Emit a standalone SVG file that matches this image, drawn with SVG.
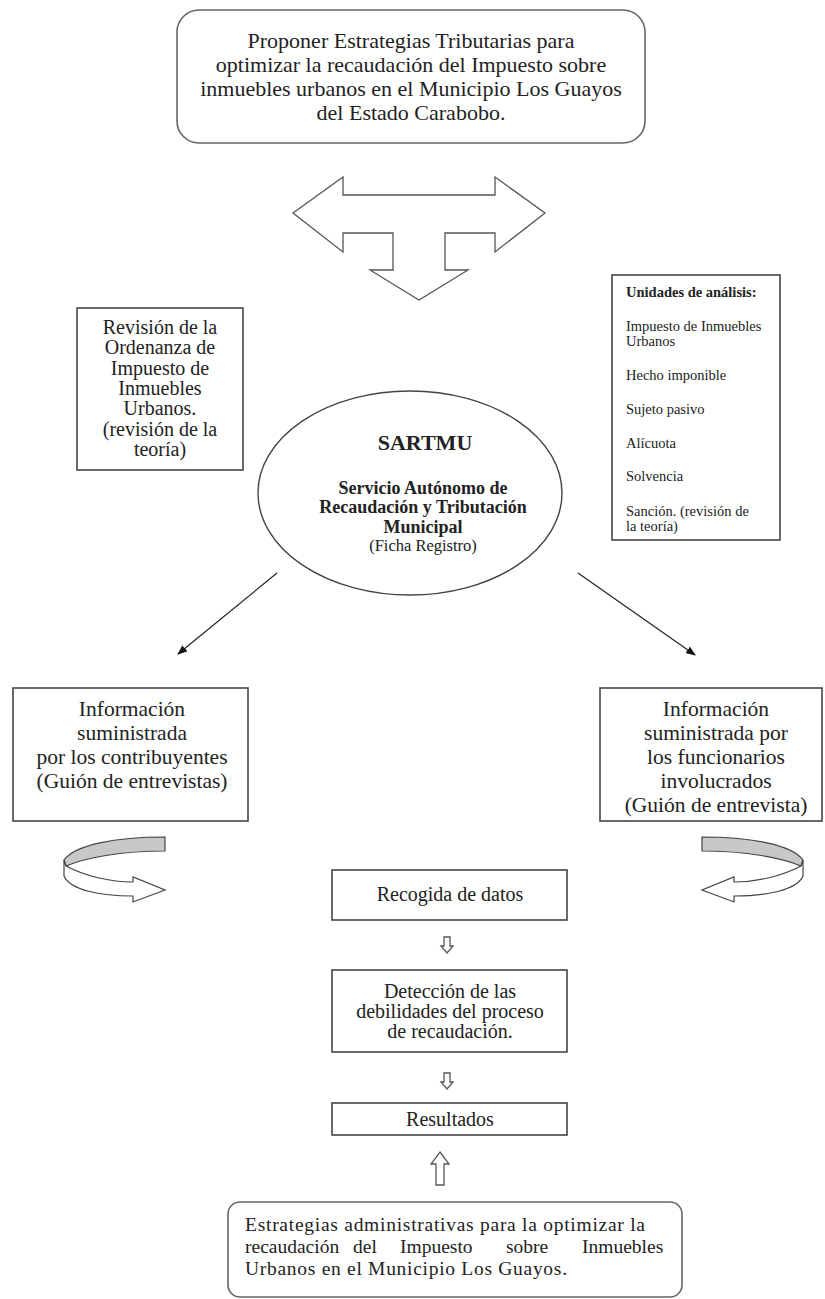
<svg xmlns="http://www.w3.org/2000/svg" width="825" height="1299" viewBox="0 0 825 1299">
<style>
text{font-family:"Liberation Serif","Times New Roman",serif;fill:#222}
.c{text-anchor:middle}
.box{fill:#fff;stroke:#444;stroke-width:1.6}
.rbox{fill:#fff;stroke:#666;stroke-width:1.6}
.blk{fill:#fff;stroke:#555;stroke-width:1.3;stroke-linejoin:miter}
.conn{stroke:#222;stroke-width:1.2;fill:none}
</style>
<defs>
<marker id="ah" markerWidth="10" markerHeight="8" refX="9" refY="4" orient="auto" markerUnits="userSpaceOnUse">
<path d="M0,0 L10,4 L0,8 Z" fill="#111"/>
</marker>
<g id="curl">
<path d="M165,837 C115,837 75,845 64,860 L66,866 C85,858 120,851 165,851 Z" fill="#c8c8c8" stroke="#444" stroke-width="1.2"/>
<path d="M66,866 C85,876 110,882 133,882 L133,877 L165,890 L133,902 L133,896 C100,896 70,890 64,876 L64,860 Z" fill="#fff" stroke="#444" stroke-width="1.2"/>
</g>
</defs>

<g id="objetivo">
<rect class="rbox" x="177" y="10" width="468" height="133" rx="22"/>
<text class="c" font-size="22" x="411" y="48">Proponer Estrategias Tributarias para</text>
<text class="c" font-size="22" x="411" y="72">optimizar la recaudación del Impuesto sobre</text>
<text class="c" font-size="22" x="411" y="96">inmuebles urbanos en el Municipio Los Guayos</text>
<text class="c" font-size="22" x="411" y="120">del Estado Carabobo.</text>
</g>

<g id="flecha-triple">
<polygon class="blk" points="293,213 343,177 343,195 495,195 495,177 545,213 495,252 495,233 445,233 445,270 468,270 419,300 370,270 393,270 393,233 343,233 343,252"/>
</g>

<g id="revision">
<rect class="box" x="77" y="308" width="166" height="162"/>
<text class="c" font-size="20" x="160" y="334">Revisión de la</text>
<text class="c" font-size="20" x="160" y="354">Ordenanza de</text>
<text class="c" font-size="20" x="160" y="375">Impuesto de</text>
<text class="c" font-size="20" x="160" y="395">Inmuebles</text>
<text class="c" font-size="20" x="160" y="415">Urbanos.</text>
<text class="c" font-size="20" x="160" y="436">(revisión de la</text>
<text class="c" font-size="20" x="160" y="456">teoría)</text>
</g>

<g id="unidades">
<rect class="box" x="612" y="275" width="168" height="265"/>
<text font-size="14.5" font-weight="bold" x="626" y="297">Unidades de análisis:</text>
<text font-size="14.5" x="626" y="331">Impuesto de Inmuebles</text>
<text font-size="14.5" x="626" y="346">Urbanos</text>
<text font-size="14.5" x="626" y="380">Hecho imponible</text>
<text font-size="14.5" x="626" y="414">Sujeto pasivo</text>
<text font-size="14.5" x="626" y="448">Alícuota</text>
<text font-size="14.5" x="626" y="481">Solvencia</text>
<text font-size="14.5" x="626" y="516">Sanción. (revisión de</text>
<text font-size="14.5" x="626" y="531">la teoría)</text>
</g>

<g id="sartmu">
<ellipse cx="410" cy="493" rx="152" ry="102" fill="#fff" stroke="#444" stroke-width="1.4"/>
<text class="c" font-size="22" font-weight="bold" x="425" y="450">SARTMU</text>
<text class="c" font-size="18" font-weight="bold" x="423" y="494">Servicio Autónomo de</text>
<text class="c" font-size="18" font-weight="bold" x="423" y="513">Recaudación y Tributación</text>
<text class="c" font-size="18" font-weight="bold" x="423" y="533">Municipal</text>
<text class="c" font-size="16.5" x="423" y="551">(Ficha Registro)</text>
</g>

<g id="conectores">
<line class="conn" x1="277" y1="573" x2="178" y2="654" marker-end="url(#ah)"/>
<line class="conn" x1="578" y1="573" x2="695" y2="655" marker-end="url(#ah)"/>
<use href="#curl"/>
<use href="#curl" transform="translate(867,0) scale(-1,1)"/>
<path class="blk" d="M444,937 L450,937 L450,946 L453,946 L447,953 L441,946 L444,946 Z"/>
<path class="blk" d="M444,1073 L450,1073 L450,1082 L453,1082 L447,1089 L441,1082 L444,1082 Z"/>
<path class="blk" d="M440,1152 L449,1164 L444,1164 L444,1185 L436,1185 L436,1164 L431,1164 Z"/>
</g>

<g id="info-contribuyentes">
<rect class="box" x="13" y="688" width="235" height="133"/>
<text class="c" font-size="21.5" x="132" y="716">Información</text>
<text class="c" font-size="21.5" x="132" y="740">suministrada</text>
<text class="c" font-size="21.5" x="132" y="764">por los contribuyentes</text>
<text class="c" font-size="21.5" x="132" y="788">(Guión de entrevistas)</text>
</g>

<g id="info-funcionarios">
<rect class="box" x="600" y="688" width="222" height="133"/>
<text class="c" font-size="21.5" x="716" y="716">Información</text>
<text class="c" font-size="21.5" x="716" y="740">suministrada por</text>
<text class="c" font-size="21.5" x="716" y="764">los funcionarios</text>
<text class="c" font-size="21.5" x="716" y="788">involucrados</text>
<text class="c" font-size="21.5" x="716" y="812">(Guión de entrevista)</text>
</g>

<g id="recogida">
<rect class="box" x="332" y="870" width="235" height="50"/>
<text class="c" font-size="20" x="450" y="901">Recogida de datos</text>
</g>

<g id="deteccion">
<rect class="box" x="332" y="970" width="235" height="82"/>
<text class="c" font-size="20" x="450" y="998">Detección de las</text>
<text class="c" font-size="20" x="450" y="1018">debilidades del proceso</text>
<text class="c" font-size="20" x="450" y="1038">de recaudación.</text>
</g>

<g id="resultados">
<rect class="box" x="332" y="1103" width="235" height="32"/>
<text class="c" font-size="20" x="450" y="1126">Resultados</text>
</g>

<g id="estrategias">
<rect class="rbox" x="228" y="1202" width="454" height="95" rx="12"/>
<text font-size="19.5" x="245" y="1231" textLength="400" lengthAdjust="spacing">Estrategias administrativas para la optimizar la</text>
<text font-size="19.5" y="1253"><tspan x="245">recaudación</tspan><tspan x="353">del</tspan><tspan x="400">Impuesto</tspan><tspan x="506">sobre</tspan><tspan x="582">Inmuebles</tspan></text>
<text font-size="19.5" x="245" y="1275" textLength="322" lengthAdjust="spacing">Urbanos en el Municipio Los Guayos.</text>
</g>
</svg>
